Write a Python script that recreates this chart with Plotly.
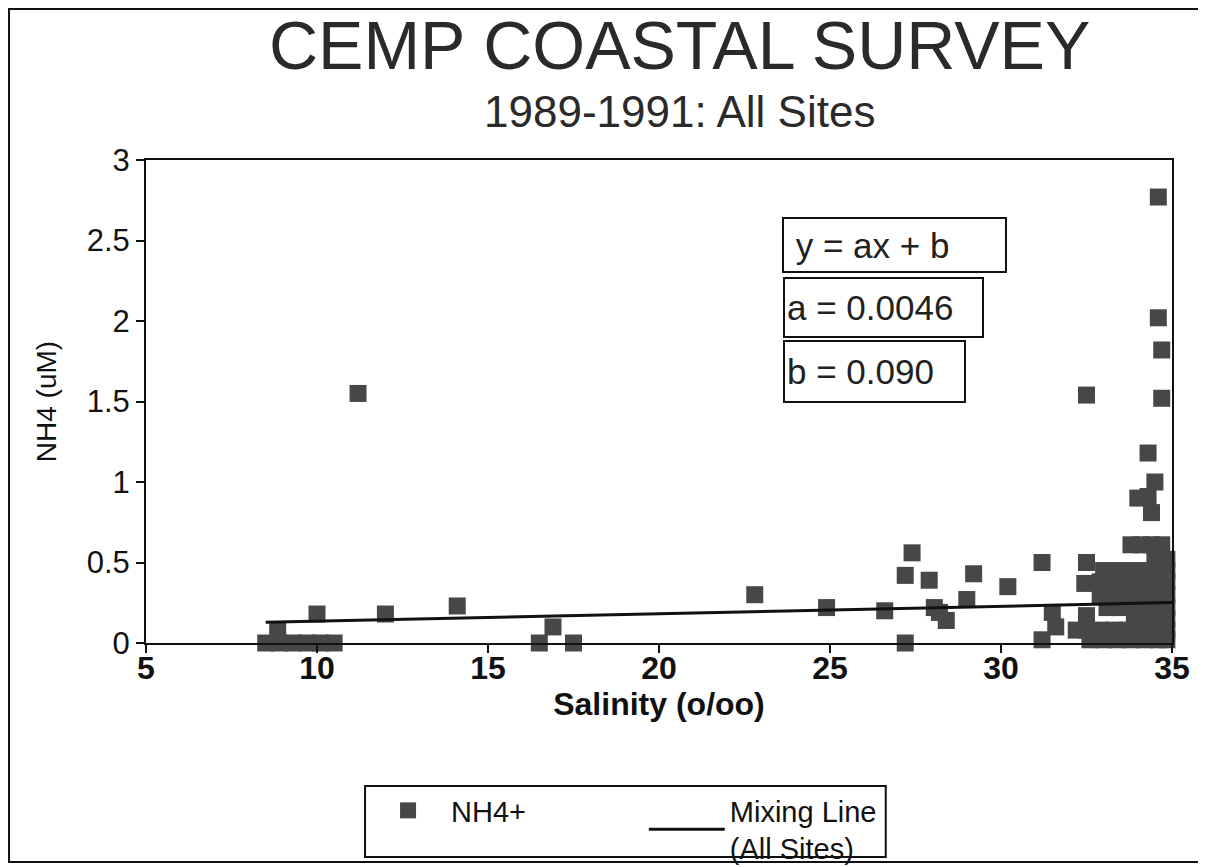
import plotly.graph_objects as go

salinity = [
    8.5, 8.9, 9.3, 9.7, 10.1, 10.5, 8.85, 10.0, 12.0, 14.1, 11.2,
    16.5, 16.9, 17.5, 22.8, 24.9, 26.6, 27.2, 27.4, 27.2, 27.9, 28.05,
    28.2, 28.4, 29.0, 29.2, 30.2,
    31.2, 31.2, 31.5, 31.6, 32.45, 32.5, 32.5, 32.5, 32.2,
    34.6, 34.6, 34.7, 34.7, 34.3, 34.5, 34.3, 34.4, 34.0,
    33.8, 34.1, 34.4, 34.7,
    34.5, 34.85,
    33.0, 33.4, 33.8, 34.2, 34.6, 34.85,
    32.9, 33.3, 33.7, 34.1, 34.5, 34.85,
    32.9, 33.3, 33.7, 34.1, 34.5, 34.85,
    33.1, 33.5, 33.9, 34.3, 34.7, 34.85,
    33.9, 34.3, 34.7, 34.85,
    32.5, 32.9, 33.3, 33.7, 34.1, 34.5, 34.85,
    32.6, 33.0, 33.4, 33.8, 34.2, 34.6, 34.85,
]
nh4 = [
    0.0, 0.0, 0.0, 0.0, 0.0, 0.0, 0.08, 0.18, 0.18, 0.23, 1.55,
    0.0, 0.10, 0.0, 0.30, 0.22, 0.20, 0.0, 0.56, 0.42, 0.39, 0.22,
    0.19, 0.14, 0.27, 0.43, 0.35,
    0.50, 0.02, 0.19, 0.10, 0.37, 0.50, 0.17, 1.54, 0.08,
    2.77, 2.02, 1.82, 1.52, 1.18, 1.00, 0.91, 0.81, 0.90,
    0.61, 0.61, 0.61, 0.61,
    0.52, 0.52,
    0.45, 0.45, 0.45, 0.45, 0.45, 0.45,
    0.38, 0.38, 0.38, 0.38, 0.38, 0.38,
    0.30, 0.30, 0.30, 0.30, 0.30, 0.30,
    0.22, 0.22, 0.22, 0.22, 0.22, 0.22,
    0.15, 0.15, 0.15, 0.15,
    0.08, 0.08, 0.08, 0.08, 0.08, 0.08, 0.08,
    0.02, 0.02, 0.02, 0.02, 0.02, 0.02, 0.02,
]

# mixing line y = 0.0046x + 0.090, end points
mix_x = [8.5, 35.0]
mix_y = [0.129, 0.251]

y_ticks = [0, 0.5, 1, 1.5, 2, 2.5, 3]
y_labels = ["0", "0.5", "1", "1.5", "2", "2.5", "3"]
x_ticks = [5, 10, 15, 20, 25, 30, 35]

FONT = "Liberation Sans, Arial, sans-serif"
INK = "#111111"
NBSP = "\u00a0"

fig = go.Figure()
fig.add_trace(go.Scatter(
    x=salinity, y=nh4, mode="markers", name="NH4+" + NBSP * 14,
    marker=dict(symbol="square", size=17, color="#474747"),
    cliponaxis=False,
))
fig.add_trace(go.Scatter(
    x=mix_x, y=mix_y, mode="lines", name="Mixing Line<br>(All Sites)",
    line=dict(color="#111111", width=3),
))

# the page body adds an 8px offset, so the figure is 8px smaller than the window
fig.update_layout(
    width=1198, height=859,
    margin=dict(l=138, r=34, t=152, b=224, autoexpand=False),
    paper_bgcolor="white", plot_bgcolor="white",
    font=dict(family=FONT, color=INK, size=28),
    showlegend=True,
    legend=dict(
        orientation="h", x=0.2135, y=-0.294, xanchor="left", yanchor="top",
        bgcolor="rgba(0,0,0,0)", borderwidth=0, font=dict(size=29),
        itemwidth=76, traceorder="normal",
    ),
)

fig.update_xaxes(
    range=[5, 35], tickvals=x_ticks, showgrid=False, zeroline=False, automargin=False,
    showline=True, linecolor="#111111", linewidth=2, mirror=True,
    ticks="outside", ticklen=8, tickwidth=2, tickcolor="#111111",
    tickfont=dict(size=32, weight="bold"), ticklabelstandoff=-12,
    title=dict(text="Salinity (o/oo)", font=dict(size=32, weight="bold"), standoff=3),
)
fig.update_yaxes(
    range=[0, 3], tickvals=y_ticks, ticktext=y_labels, showgrid=False, zeroline=False,
    automargin=False,
    showline=True, linecolor="#111111", linewidth=2, mirror=True,
    ticks="outside", ticklen=8, tickwidth=2, tickcolor="#111111",
    tickfont=dict(size=31),
    title=dict(text="NH4 (uM)", font=dict(size=28), standoff=22),
)

# titles
fig.add_annotation(text="CEMP COASTAL SURVEY", xref="paper", yref="paper",
                   x=0.52, y=1.321, xanchor="center", yanchor="top", showarrow=False,
                   font=dict(size=68, color="#2a2a2a"))
fig.add_annotation(text="1989-1991: All Sites", xref="paper", yref="paper",
                   x=0.52, y=1.155, xanchor="center", yanchor="top", showarrow=False,
                   font=dict(size=44, color="#2a2a2a"))

# equation boxes: text, left, top (paper), inner width, inner height
boxes = [
    (NBSP + "y = ax + b", 0.620, 0.882, 217, 48),
    ("a = 0.0046", 0.621, 0.758, 193, 53),
    ("b = 0.090", 0.621, 0.627, 175, 55),
]
for txt, bx, by, w, h in boxes:
    fig.add_annotation(text=txt, xref="paper", yref="paper", x=bx, y=by,
                       xanchor="left", yanchor="top", showarrow=False, align="left",
                       width=w, height=h, borderpad=2, bordercolor="#111111", borderwidth=2,
                       bgcolor="white", font=dict(size=35, color="#222222"))

# legend frame (the second label runs over its lower edge, as in the print)
fig.add_shape(type="rect", xref="paper", yref="paper",
              x0=0.2135, x1=0.721, y0=-0.443, y1=-0.296,
              line=dict(color="#111111", width=2))

# outer frame of the page
fig.add_shape(type="rect", xref="paper", yref="paper",
              x0=-0.1335, x1=1.030, y0=-0.4534, y1=1.3126,
              line=dict(color="#111111", width=2), layer="below")

fig.write_html("out.html")
